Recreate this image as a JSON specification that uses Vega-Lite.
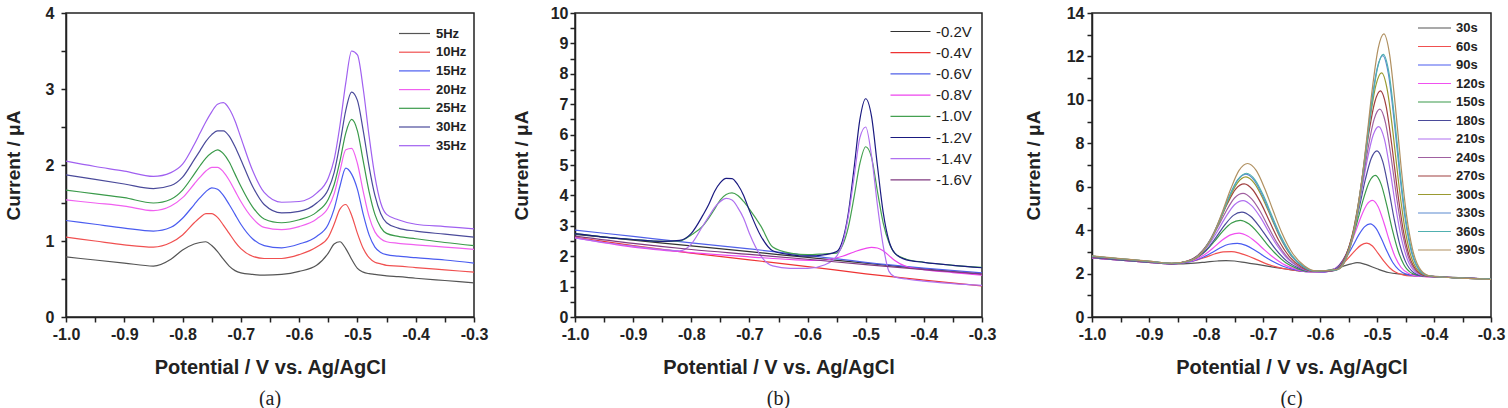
{
  "$schema": "https://vega.github.io/schema/vega-lite/v6.json",
  "autosize": {"type": "pad"},
  "padding": {"left": 3, "top": 4, "right": 5, "bottom": 0},
  "background": "white",
  "config": {
    "view": {"stroke": "#222", "strokeWidth": 1.5},
    "font": "Liberation Sans",
    "axis": {"domainColor": "#222", "domainWidth": 1.5, "tickColor": "#222", "tickWidth": 1.5, "tickSize": 5,
      "labelFont": "Liberation Sans", "labelFontSize": 16, "labelFontWeight": "bold", "labelColor": "#222",
      "titleFont": "Liberation Sans", "titleFontSize": 20, "titleFontWeight": "bold", "titleColor": "#222",
      "grid": false, "labelOverlap": false, "labelFlush": false},
    "axisX": {"labelPadding": 4, "titlePadding": 15},
    "axisY": {"titleFontSize": 19},
    "legend": {"orient": "none", "symbolStrokeWidth": 1.5, "symbolSize": 100, "labelFont": "Liberation Sans", "labelColor": "#222"},
    "line": {"strokeWidth": 1.2, "interpolate": "monotone"},
    "title": {"orient": "bottom", "font": "Liberation Serif", "fontSize": 20, "fontWeight": "normal", "color": "#222", "offset": 12}
  },
  "datasets": {
    "a": [
      {"s":"5Hz","x":-1,"y":0.79},{"s":"5Hz","x":-0.95,"y":0.75},{"s":"5Hz","x":-0.9,"y":0.71},{"s":"5Hz","x":-0.85,"y":0.67},{"s":"5Hz","x":-0.82,"y":0.76},{"s":"5Hz","x":-0.8,"y":0.88},{"s":"5Hz","x":-0.78,"y":0.96},{"s":"5Hz","x":-0.77,"y":0.98},{"s":"5Hz","x":-0.76,"y":0.99},{"s":"5Hz","x":-0.75,"y":0.94},{"s":"5Hz","x":-0.74,"y":0.86},{"s":"5Hz","x":-0.73,"y":0.76},{"s":"5Hz","x":-0.72,"y":0.67},{"s":"5Hz","x":-0.71,"y":0.61},{"s":"5Hz","x":-0.7,"y":0.58},{"s":"5Hz","x":-0.68,"y":0.56},{"s":"5Hz","x":-0.66,"y":0.55},{"s":"5Hz","x":-0.63,"y":0.56},{"s":"5Hz","x":-0.6,"y":0.6},{"s":"5Hz","x":-0.57,"y":0.68},{"s":"5Hz","x":-0.55,"y":0.84},{"s":"5Hz","x":-0.54,"y":0.96},{"s":"5Hz","x":-0.53,"y":0.99},{"s":"5Hz","x":-0.52,"y":0.9},{"s":"5Hz","x":-0.51,"y":0.76},{"s":"5Hz","x":-0.5,"y":0.64},{"s":"5Hz","x":-0.49,"y":0.59},{"s":"5Hz","x":-0.48,"y":0.57},{"s":"5Hz","x":-0.47,"y":0.56},{"s":"5Hz","x":-0.46,"y":0.55},{"s":"5Hz","x":-0.45,"y":0.54},{"s":"5Hz","x":-0.43,"y":0.53},{"s":"5Hz","x":-0.4,"y":0.51},{"s":"5Hz","x":-0.35,"y":0.48},{"s":"5Hz","x":-0.3,"y":0.45},
      {"s":"10Hz","x":-1,"y":1.05},{"s":"10Hz","x":-0.95,"y":1.0},{"s":"10Hz","x":-0.9,"y":0.95},{"s":"10Hz","x":-0.85,"y":0.92},{"s":"10Hz","x":-0.82,"y":0.98},{"s":"10Hz","x":-0.8,"y":1.08},{"s":"10Hz","x":-0.78,"y":1.24},{"s":"10Hz","x":-0.77,"y":1.31},{"s":"10Hz","x":-0.76,"y":1.36},{"s":"10Hz","x":-0.75,"y":1.36},{"s":"10Hz","x":-0.74,"y":1.31},{"s":"10Hz","x":-0.73,"y":1.21},{"s":"10Hz","x":-0.72,"y":1.1},{"s":"10Hz","x":-0.71,"y":0.99},{"s":"10Hz","x":-0.7,"y":0.9},{"s":"10Hz","x":-0.68,"y":0.8},{"s":"10Hz","x":-0.66,"y":0.77},{"s":"10Hz","x":-0.63,"y":0.77},{"s":"10Hz","x":-0.6,"y":0.82},{"s":"10Hz","x":-0.57,"y":0.92},{"s":"10Hz","x":-0.55,"y":1.05},{"s":"10Hz","x":-0.54,"y":1.22},{"s":"10Hz","x":-0.53,"y":1.42},{"s":"10Hz","x":-0.52,"y":1.48},{"s":"10Hz","x":-0.51,"y":1.34},{"s":"10Hz","x":-0.5,"y":1.1},{"s":"10Hz","x":-0.49,"y":0.9},{"s":"10Hz","x":-0.48,"y":0.78},{"s":"10Hz","x":-0.47,"y":0.72},{"s":"10Hz","x":-0.46,"y":0.7},{"s":"10Hz","x":-0.45,"y":0.68},{"s":"10Hz","x":-0.43,"y":0.67},{"s":"10Hz","x":-0.4,"y":0.65},{"s":"10Hz","x":-0.35,"y":0.62},{"s":"10Hz","x":-0.3,"y":0.59},
      {"s":"15Hz","x":-1,"y":1.27},{"s":"15Hz","x":-0.95,"y":1.22},{"s":"15Hz","x":-0.9,"y":1.17},{"s":"15Hz","x":-0.85,"y":1.13},{"s":"15Hz","x":-0.82,"y":1.18},{"s":"15Hz","x":-0.8,"y":1.3},{"s":"15Hz","x":-0.78,"y":1.48},{"s":"15Hz","x":-0.77,"y":1.57},{"s":"15Hz","x":-0.76,"y":1.65},{"s":"15Hz","x":-0.75,"y":1.7},{"s":"15Hz","x":-0.74,"y":1.68},{"s":"15Hz","x":-0.73,"y":1.6},{"s":"15Hz","x":-0.72,"y":1.48},{"s":"15Hz","x":-0.71,"y":1.35},{"s":"15Hz","x":-0.7,"y":1.22},{"s":"15Hz","x":-0.68,"y":1.03},{"s":"15Hz","x":-0.66,"y":0.94},{"s":"15Hz","x":-0.63,"y":0.91},{"s":"15Hz","x":-0.6,"y":0.96},{"s":"15Hz","x":-0.57,"y":1.06},{"s":"15Hz","x":-0.55,"y":1.22},{"s":"15Hz","x":-0.54,"y":1.42},{"s":"15Hz","x":-0.53,"y":1.72},{"s":"15Hz","x":-0.52,"y":1.96},{"s":"15Hz","x":-0.51,"y":1.88},{"s":"15Hz","x":-0.5,"y":1.68},{"s":"15Hz","x":-0.49,"y":1.35},{"s":"15Hz","x":-0.48,"y":1.08},{"s":"15Hz","x":-0.47,"y":0.92},{"s":"15Hz","x":-0.46,"y":0.85},{"s":"15Hz","x":-0.45,"y":0.82},{"s":"15Hz","x":-0.43,"y":0.8},{"s":"15Hz","x":-0.4,"y":0.78},{"s":"15Hz","x":-0.35,"y":0.75},{"s":"15Hz","x":-0.3,"y":0.71},
      {"s":"20Hz","x":-1,"y":1.54},{"s":"20Hz","x":-0.95,"y":1.5},{"s":"20Hz","x":-0.9,"y":1.46},{"s":"20Hz","x":-0.85,"y":1.4},{"s":"20Hz","x":-0.82,"y":1.46},{"s":"20Hz","x":-0.8,"y":1.57},{"s":"20Hz","x":-0.78,"y":1.75},{"s":"20Hz","x":-0.77,"y":1.84},{"s":"20Hz","x":-0.76,"y":1.92},{"s":"20Hz","x":-0.75,"y":1.97},{"s":"20Hz","x":-0.74,"y":1.97},{"s":"20Hz","x":-0.73,"y":1.91},{"s":"20Hz","x":-0.72,"y":1.8},{"s":"20Hz","x":-0.71,"y":1.66},{"s":"20Hz","x":-0.7,"y":1.52},{"s":"20Hz","x":-0.68,"y":1.3},{"s":"20Hz","x":-0.66,"y":1.18},{"s":"20Hz","x":-0.63,"y":1.15},{"s":"20Hz","x":-0.6,"y":1.19},{"s":"20Hz","x":-0.57,"y":1.29},{"s":"20Hz","x":-0.55,"y":1.44},{"s":"20Hz","x":-0.54,"y":1.62},{"s":"20Hz","x":-0.53,"y":1.92},{"s":"20Hz","x":-0.52,"y":2.2},{"s":"20Hz","x":-0.51,"y":2.22},{"s":"20Hz","x":-0.5,"y":2.02},{"s":"20Hz","x":-0.49,"y":1.65},{"s":"20Hz","x":-0.48,"y":1.32},{"s":"20Hz","x":-0.47,"y":1.12},{"s":"20Hz","x":-0.46,"y":1.03},{"s":"20Hz","x":-0.45,"y":0.99},{"s":"20Hz","x":-0.43,"y":0.97},{"s":"20Hz","x":-0.4,"y":0.95},{"s":"20Hz","x":-0.35,"y":0.92},{"s":"20Hz","x":-0.3,"y":0.89},
      {"s":"25Hz","x":-1,"y":1.67},{"s":"25Hz","x":-0.95,"y":1.62},{"s":"25Hz","x":-0.9,"y":1.57},{"s":"25Hz","x":-0.85,"y":1.5},{"s":"25Hz","x":-0.82,"y":1.55},{"s":"25Hz","x":-0.8,"y":1.67},{"s":"25Hz","x":-0.78,"y":1.88},{"s":"25Hz","x":-0.77,"y":1.99},{"s":"25Hz","x":-0.76,"y":2.09},{"s":"25Hz","x":-0.75,"y":2.16},{"s":"25Hz","x":-0.74,"y":2.2},{"s":"25Hz","x":-0.73,"y":2.15},{"s":"25Hz","x":-0.72,"y":2.04},{"s":"25Hz","x":-0.71,"y":1.88},{"s":"25Hz","x":-0.7,"y":1.72},{"s":"25Hz","x":-0.68,"y":1.45},{"s":"25Hz","x":-0.66,"y":1.29},{"s":"25Hz","x":-0.63,"y":1.24},{"s":"25Hz","x":-0.6,"y":1.28},{"s":"25Hz","x":-0.57,"y":1.38},{"s":"25Hz","x":-0.55,"y":1.55},{"s":"25Hz","x":-0.54,"y":1.74},{"s":"25Hz","x":-0.53,"y":2.05},{"s":"25Hz","x":-0.52,"y":2.42},{"s":"25Hz","x":-0.51,"y":2.6},{"s":"25Hz","x":-0.5,"y":2.45},{"s":"25Hz","x":-0.49,"y":2.05},{"s":"25Hz","x":-0.48,"y":1.65},{"s":"25Hz","x":-0.47,"y":1.35},{"s":"25Hz","x":-0.46,"y":1.18},{"s":"25Hz","x":-0.45,"y":1.1},{"s":"25Hz","x":-0.43,"y":1.06},{"s":"25Hz","x":-0.4,"y":1.03},{"s":"25Hz","x":-0.35,"y":0.98},{"s":"25Hz","x":-0.3,"y":0.94},
      {"s":"30Hz","x":-1,"y":1.87},{"s":"30Hz","x":-0.95,"y":1.81},{"s":"30Hz","x":-0.9,"y":1.75},{"s":"30Hz","x":-0.85,"y":1.69},{"s":"30Hz","x":-0.82,"y":1.73},{"s":"30Hz","x":-0.8,"y":1.84},{"s":"30Hz","x":-0.78,"y":2.07},{"s":"30Hz","x":-0.77,"y":2.19},{"s":"30Hz","x":-0.76,"y":2.31},{"s":"30Hz","x":-0.75,"y":2.4},{"s":"30Hz","x":-0.74,"y":2.45},{"s":"30Hz","x":-0.73,"y":2.45},{"s":"30Hz","x":-0.72,"y":2.38},{"s":"30Hz","x":-0.71,"y":2.24},{"s":"30Hz","x":-0.7,"y":2.07},{"s":"30Hz","x":-0.68,"y":1.72},{"s":"30Hz","x":-0.66,"y":1.48},{"s":"30Hz","x":-0.63,"y":1.37},{"s":"30Hz","x":-0.6,"y":1.39},{"s":"30Hz","x":-0.57,"y":1.5},{"s":"30Hz","x":-0.55,"y":1.68},{"s":"30Hz","x":-0.54,"y":1.9},{"s":"30Hz","x":-0.53,"y":2.28},{"s":"30Hz","x":-0.52,"y":2.72},{"s":"30Hz","x":-0.51,"y":2.96},{"s":"30Hz","x":-0.5,"y":2.85},{"s":"30Hz","x":-0.49,"y":2.45},{"s":"30Hz","x":-0.48,"y":1.98},{"s":"30Hz","x":-0.47,"y":1.6},{"s":"30Hz","x":-0.46,"y":1.36},{"s":"30Hz","x":-0.45,"y":1.24},{"s":"30Hz","x":-0.43,"y":1.17},{"s":"30Hz","x":-0.4,"y":1.13},{"s":"30Hz","x":-0.35,"y":1.09},{"s":"30Hz","x":-0.3,"y":1.05},
      {"s":"35Hz","x":-1,"y":2.05},{"s":"35Hz","x":-0.95,"y":1.98},{"s":"35Hz","x":-0.9,"y":1.92},{"s":"35Hz","x":-0.85,"y":1.85},{"s":"35Hz","x":-0.82,"y":1.9},{"s":"35Hz","x":-0.8,"y":2.01},{"s":"35Hz","x":-0.78,"y":2.27},{"s":"35Hz","x":-0.77,"y":2.42},{"s":"35Hz","x":-0.76,"y":2.57},{"s":"35Hz","x":-0.75,"y":2.7},{"s":"35Hz","x":-0.74,"y":2.8},{"s":"35Hz","x":-0.73,"y":2.82},{"s":"35Hz","x":-0.72,"y":2.74},{"s":"35Hz","x":-0.71,"y":2.58},{"s":"35Hz","x":-0.7,"y":2.36},{"s":"35Hz","x":-0.68,"y":1.93},{"s":"35Hz","x":-0.66,"y":1.64},{"s":"35Hz","x":-0.63,"y":1.51},{"s":"35Hz","x":-0.6,"y":1.52},{"s":"35Hz","x":-0.57,"y":1.63},{"s":"35Hz","x":-0.55,"y":1.83},{"s":"35Hz","x":-0.54,"y":2.07},{"s":"35Hz","x":-0.53,"y":2.52},{"s":"35Hz","x":-0.52,"y":3.08},{"s":"35Hz","x":-0.51,"y":3.5},{"s":"35Hz","x":-0.5,"y":3.45},{"s":"35Hz","x":-0.49,"y":3.0},{"s":"35Hz","x":-0.48,"y":2.38},{"s":"35Hz","x":-0.47,"y":1.85},{"s":"35Hz","x":-0.46,"y":1.5},{"s":"35Hz","x":-0.45,"y":1.35},{"s":"35Hz","x":-0.43,"y":1.28},{"s":"35Hz","x":-0.4,"y":1.22},{"s":"35Hz","x":-0.35,"y":1.19},{"s":"35Hz","x":-0.3,"y":1.16}
    ],
    "b": [
      {"s":"-0.2V","x":-1,"y":2.72},{"s":"-0.2V","x":-0.9,"y":2.53},{"s":"-0.2V","x":-0.8,"y":2.34},{"s":"-0.2V","x":-0.7,"y":2.15},{"s":"-0.2V","x":-0.6,"y":1.96},{"s":"-0.2V","x":-0.5,"y":1.77},{"s":"-0.2V","x":-0.4,"y":1.58},{"s":"-0.2V","x":-0.3,"y":1.4},
      {"s":"-0.4V","x":-1,"y":2.62},{"s":"-0.4V","x":-0.9,"y":2.35},{"s":"-0.4V","x":-0.8,"y":2.1},{"s":"-0.4V","x":-0.7,"y":1.88},{"s":"-0.4V","x":-0.6,"y":1.66},{"s":"-0.4V","x":-0.5,"y":1.42},{"s":"-0.4V","x":-0.4,"y":1.21},{"s":"-0.4V","x":-0.3,"y":1.02},
      {"s":"-0.6V","x":-1,"y":2.86},{"s":"-0.6V","x":-0.9,"y":2.65},{"s":"-0.6V","x":-0.8,"y":2.44},{"s":"-0.6V","x":-0.7,"y":2.24},{"s":"-0.6V","x":-0.6,"y":2.03},{"s":"-0.6V","x":-0.5,"y":1.8},{"s":"-0.6V","x":-0.4,"y":1.61},{"s":"-0.6V","x":-0.3,"y":1.45},
      {"s":"-0.8V","x":-1,"y":2.6},{"s":"-0.8V","x":-0.9,"y":2.3},{"s":"-0.8V","x":-0.8,"y":2.12},{"s":"-0.8V","x":-0.7,"y":1.98},{"s":"-0.8V","x":-0.62,"y":1.88},{"s":"-0.8V","x":-0.58,"y":1.86},{"s":"-0.8V","x":-0.56,"y":1.9},{"s":"-0.8V","x":-0.54,"y":2.0},{"s":"-0.8V","x":-0.52,"y":2.14},{"s":"-0.8V","x":-0.5,"y":2.26},{"s":"-0.8V","x":-0.49,"y":2.29},{"s":"-0.8V","x":-0.48,"y":2.27},{"s":"-0.8V","x":-0.47,"y":2.18},{"s":"-0.8V","x":-0.46,"y":2.02},{"s":"-0.8V","x":-0.45,"y":1.86},{"s":"-0.8V","x":-0.43,"y":1.66},{"s":"-0.8V","x":-0.4,"y":1.56},{"s":"-0.8V","x":-0.35,"y":1.46},{"s":"-0.8V","x":-0.3,"y":1.38},
      {"s":"-1.0V","x":-1,"y":2.74},{"s":"-1.0V","x":-0.95,"y":2.63},{"s":"-1.0V","x":-0.9,"y":2.55},{"s":"-1.0V","x":-0.85,"y":2.49},{"s":"-1.0V","x":-0.82,"y":2.5},{"s":"-1.0V","x":-0.8,"y":2.7},{"s":"-1.0V","x":-0.78,"y":3.0},{"s":"-1.0V","x":-0.77,"y":3.25},{"s":"-1.0V","x":-0.76,"y":3.55},{"s":"-1.0V","x":-0.75,"y":3.85},{"s":"-1.0V","x":-0.74,"y":4.03},{"s":"-1.0V","x":-0.73,"y":4.08},{"s":"-1.0V","x":-0.72,"y":4.0},{"s":"-1.0V","x":-0.71,"y":3.8},{"s":"-1.0V","x":-0.7,"y":3.55},{"s":"-1.0V","x":-0.68,"y":2.98},{"s":"-1.0V","x":-0.66,"y":2.3},{"s":"-1.0V","x":-0.63,"y":2.1},{"s":"-1.0V","x":-0.6,"y":2.05},{"s":"-1.0V","x":-0.57,"y":2.08},{"s":"-1.0V","x":-0.55,"y":2.1},{"s":"-1.0V","x":-0.54,"y":2.35},{"s":"-1.0V","x":-0.53,"y":2.95},{"s":"-1.0V","x":-0.52,"y":3.95},{"s":"-1.0V","x":-0.51,"y":5.05},{"s":"-1.0V","x":-0.5,"y":5.6},{"s":"-1.0V","x":-0.49,"y":5.25},{"s":"-1.0V","x":-0.48,"y":4.15},{"s":"-1.0V","x":-0.47,"y":3.1},{"s":"-1.0V","x":-0.46,"y":2.45},{"s":"-1.0V","x":-0.45,"y":2.1},{"s":"-1.0V","x":-0.43,"y":1.9},{"s":"-1.0V","x":-0.4,"y":1.8},{"s":"-1.0V","x":-0.35,"y":1.7},{"s":"-1.0V","x":-0.3,"y":1.63},
      {"s":"-1.2V","x":-1,"y":2.74},{"s":"-1.2V","x":-0.95,"y":2.63},{"s":"-1.2V","x":-0.9,"y":2.55},{"s":"-1.2V","x":-0.85,"y":2.49},{"s":"-1.2V","x":-0.82,"y":2.52},{"s":"-1.2V","x":-0.8,"y":2.75},{"s":"-1.2V","x":-0.78,"y":3.35},{"s":"-1.2V","x":-0.77,"y":3.7},{"s":"-1.2V","x":-0.76,"y":4.13},{"s":"-1.2V","x":-0.75,"y":4.42},{"s":"-1.2V","x":-0.74,"y":4.56},{"s":"-1.2V","x":-0.73,"y":4.55},{"s":"-1.2V","x":-0.72,"y":4.35},{"s":"-1.2V","x":-0.71,"y":4.0},{"s":"-1.2V","x":-0.7,"y":3.5},{"s":"-1.2V","x":-0.68,"y":2.65},{"s":"-1.2V","x":-0.66,"y":2.18},{"s":"-1.2V","x":-0.63,"y":2.05},{"s":"-1.2V","x":-0.6,"y":2.0},{"s":"-1.2V","x":-0.57,"y":2.05},{"s":"-1.2V","x":-0.55,"y":2.15},{"s":"-1.2V","x":-0.54,"y":2.5},{"s":"-1.2V","x":-0.53,"y":3.4},{"s":"-1.2V","x":-0.52,"y":4.9},{"s":"-1.2V","x":-0.51,"y":6.5},{"s":"-1.2V","x":-0.5,"y":7.18},{"s":"-1.2V","x":-0.49,"y":6.6},{"s":"-1.2V","x":-0.48,"y":5.0},{"s":"-1.2V","x":-0.47,"y":3.45},{"s":"-1.2V","x":-0.46,"y":2.5},{"s":"-1.2V","x":-0.45,"y":2.1},{"s":"-1.2V","x":-0.43,"y":1.88},{"s":"-1.2V","x":-0.4,"y":1.8},{"s":"-1.2V","x":-0.35,"y":1.7},{"s":"-1.2V","x":-0.3,"y":1.62},
      {"s":"-1.4V","x":-1,"y":2.6},{"s":"-1.4V","x":-0.95,"y":2.45},{"s":"-1.4V","x":-0.9,"y":2.33},{"s":"-1.4V","x":-0.85,"y":2.22},{"s":"-1.4V","x":-0.82,"y":2.18},{"s":"-1.4V","x":-0.8,"y":2.4},{"s":"-1.4V","x":-0.78,"y":3.0},{"s":"-1.4V","x":-0.77,"y":3.3},{"s":"-1.4V","x":-0.76,"y":3.6},{"s":"-1.4V","x":-0.75,"y":3.8},{"s":"-1.4V","x":-0.74,"y":3.9},{"s":"-1.4V","x":-0.73,"y":3.85},{"s":"-1.4V","x":-0.72,"y":3.6},{"s":"-1.4V","x":-0.71,"y":3.25},{"s":"-1.4V","x":-0.7,"y":2.75},{"s":"-1.4V","x":-0.68,"y":2.0},{"s":"-1.4V","x":-0.66,"y":1.68},{"s":"-1.4V","x":-0.63,"y":1.6},{"s":"-1.4V","x":-0.6,"y":1.6},{"s":"-1.4V","x":-0.57,"y":1.72},{"s":"-1.4V","x":-0.55,"y":2.0},{"s":"-1.4V","x":-0.54,"y":2.4},{"s":"-1.4V","x":-0.53,"y":3.3},{"s":"-1.4V","x":-0.52,"y":4.6},{"s":"-1.4V","x":-0.51,"y":5.9},{"s":"-1.4V","x":-0.5,"y":6.25},{"s":"-1.4V","x":-0.49,"y":5.3},{"s":"-1.4V","x":-0.48,"y":3.7},{"s":"-1.4V","x":-0.47,"y":2.35},{"s":"-1.4V","x":-0.46,"y":1.5},{"s":"-1.4V","x":-0.45,"y":1.32},{"s":"-1.4V","x":-0.43,"y":1.25},{"s":"-1.4V","x":-0.4,"y":1.18},{"s":"-1.4V","x":-0.35,"y":1.1},{"s":"-1.4V","x":-0.3,"y":1.04},
      {"s":"-1.6V","x":-1,"y":2.66},{"s":"-1.6V","x":-0.9,"y":2.42},{"s":"-1.6V","x":-0.8,"y":2.22},{"s":"-1.6V","x":-0.7,"y":2.06},{"s":"-1.6V","x":-0.6,"y":1.9},{"s":"-1.6V","x":-0.5,"y":1.72},{"s":"-1.6V","x":-0.4,"y":1.56},{"s":"-1.6V","x":-0.3,"y":1.42}
    ],
    "c": [
      {"s":"30s","x":-1,"y":2.72},{"s":"30s","x":-0.95,"y":2.62},{"s":"30s","x":-0.9,"y":2.52},{"s":"30s","x":-0.86,"y":2.44},{"s":"30s","x":-0.82,"y":2.48},{"s":"30s","x":-0.8,"y":2.53},{"s":"30s","x":-0.78,"y":2.58},{"s":"30s","x":-0.765,"y":2.6},{"s":"30s","x":-0.75,"y":2.58},{"s":"30s","x":-0.73,"y":2.5},{"s":"30s","x":-0.71,"y":2.42},{"s":"30s","x":-0.69,"y":2.33},{"s":"30s","x":-0.67,"y":2.25},{"s":"30s","x":-0.65,"y":2.17},{"s":"30s","x":-0.62,"y":2.1},{"s":"30s","x":-0.6,"y":2.1},{"s":"30s","x":-0.58,"y":2.18},{"s":"30s","x":-0.56,"y":2.33},{"s":"30s","x":-0.545,"y":2.45},{"s":"30s","x":-0.535,"y":2.5},{"s":"30s","x":-0.52,"y":2.42},{"s":"30s","x":-0.5,"y":2.22},{"s":"30s","x":-0.48,"y":2.05},{"s":"30s","x":-0.46,"y":1.98},{"s":"30s","x":-0.44,"y":1.95},{"s":"30s","x":-0.4,"y":1.87},{"s":"30s","x":-0.35,"y":1.8},{"s":"30s","x":-0.3,"y":1.75},
      {"s":"60s","x":-1,"y":2.72},{"s":"60s","x":-0.95,"y":2.62},{"s":"60s","x":-0.9,"y":2.52},{"s":"60s","x":-0.86,"y":2.44},{"s":"60s","x":-0.835,"y":2.52},{"s":"60s","x":-0.815,"y":2.63},{"s":"60s","x":-0.8,"y":2.76},{"s":"60s","x":-0.785,"y":2.9},{"s":"60s","x":-0.77,"y":3.0},{"s":"60s","x":-0.755,"y":3.01},{"s":"60s","x":-0.74,"y":2.93},{"s":"60s","x":-0.725,"y":2.8},{"s":"60s","x":-0.71,"y":2.63},{"s":"60s","x":-0.695,"y":2.46},{"s":"60s","x":-0.675,"y":2.3},{"s":"60s","x":-0.655,"y":2.19},{"s":"60s","x":-0.635,"y":2.11},{"s":"60s","x":-0.598,"y":2.06},{"s":"60s","x":-0.583,"y":2.12},{"s":"60s","x":-0.568,"y":2.29},{"s":"60s","x":-0.558,"y":2.5},{"s":"60s","x":-0.548,"y":2.78},{"s":"60s","x":-0.538,"y":3.07},{"s":"60s","x":-0.528,"y":3.31},{"s":"60s","x":-0.518,"y":3.4},{"s":"60s","x":-0.508,"y":3.27},{"s":"60s","x":-0.498,"y":2.93},{"s":"60s","x":-0.488,"y":2.57},{"s":"60s","x":-0.478,"y":2.27},{"s":"60s","x":-0.468,"y":2.07},{"s":"60s","x":-0.453,"y":1.93},{"s":"60s","x":-0.438,"y":1.89},{"s":"60s","x":-0.38,"y":1.83},{"s":"60s","x":-0.34,"y":1.79},{"s":"60s","x":-0.3,"y":1.75},
      {"s":"90s","x":-1,"y":2.72},{"s":"90s","x":-0.95,"y":2.62},{"s":"90s","x":-0.9,"y":2.52},{"s":"90s","x":-0.86,"y":2.44},{"s":"90s","x":-0.845,"y":2.48},{"s":"90s","x":-0.825,"y":2.56},{"s":"90s","x":-0.805,"y":2.75},{"s":"90s","x":-0.79,"y":2.96},{"s":"90s","x":-0.775,"y":3.19},{"s":"90s","x":-0.76,"y":3.35},{"s":"90s","x":-0.745,"y":3.39},{"s":"90s","x":-0.73,"y":3.3},{"s":"90s","x":-0.715,"y":3.09},{"s":"90s","x":-0.7,"y":2.83},{"s":"90s","x":-0.685,"y":2.59},{"s":"90s","x":-0.665,"y":2.34},{"s":"90s","x":-0.645,"y":2.18},{"s":"90s","x":-0.625,"y":2.09},{"s":"90s","x":-0.592,"y":2.07},{"s":"90s","x":-0.577,"y":2.18},{"s":"90s","x":-0.562,"y":2.47},{"s":"90s","x":-0.552,"y":2.83},{"s":"90s","x":-0.542,"y":3.29},{"s":"90s","x":-0.532,"y":3.78},{"s":"90s","x":-0.522,"y":4.15},{"s":"90s","x":-0.512,"y":4.29},{"s":"90s","x":-0.502,"y":4.09},{"s":"90s","x":-0.492,"y":3.59},{"s":"90s","x":-0.482,"y":3.0},{"s":"90s","x":-0.472,"y":2.5},{"s":"90s","x":-0.462,"y":2.18},{"s":"90s","x":-0.447,"y":1.95},{"s":"90s","x":-0.432,"y":1.89},{"s":"90s","x":-0.38,"y":1.83},{"s":"90s","x":-0.34,"y":1.79},{"s":"90s","x":-0.3,"y":1.75},
      {"s":"120s","x":-1,"y":2.72},{"s":"120s","x":-0.95,"y":2.62},{"s":"120s","x":-0.9,"y":2.52},{"s":"120s","x":-0.86,"y":2.44},{"s":"120s","x":-0.842,"y":2.5},{"s":"120s","x":-0.822,"y":2.61},{"s":"120s","x":-0.802,"y":2.88},{"s":"120s","x":-0.787,"y":3.19},{"s":"120s","x":-0.772,"y":3.53},{"s":"120s","x":-0.757,"y":3.78},{"s":"120s","x":-0.742,"y":3.86},{"s":"120s","x":-0.727,"y":3.73},{"s":"120s","x":-0.712,"y":3.44},{"s":"120s","x":-0.697,"y":3.08},{"s":"120s","x":-0.682,"y":2.75},{"s":"120s","x":-0.662,"y":2.4},{"s":"120s","x":-0.642,"y":2.2},{"s":"120s","x":-0.622,"y":2.09},{"s":"120s","x":-0.588,"y":2.09},{"s":"120s","x":-0.573,"y":2.24},{"s":"120s","x":-0.558,"y":2.69},{"s":"120s","x":-0.548,"y":3.22},{"s":"120s","x":-0.538,"y":3.91},{"s":"120s","x":-0.528,"y":4.62},{"s":"120s","x":-0.518,"y":5.17},{"s":"120s","x":-0.508,"y":5.37},{"s":"120s","x":-0.498,"y":5.08},{"s":"120s","x":-0.488,"y":4.35},{"s":"120s","x":-0.478,"y":3.49},{"s":"120s","x":-0.468,"y":2.76},{"s":"120s","x":-0.458,"y":2.29},{"s":"120s","x":-0.443,"y":1.98},{"s":"120s","x":-0.428,"y":1.88},{"s":"120s","x":-0.38,"y":1.83},{"s":"120s","x":-0.34,"y":1.79},{"s":"120s","x":-0.3,"y":1.75},
      {"s":"150s","x":-1,"y":2.74},{"s":"150s","x":-0.95,"y":2.63},{"s":"150s","x":-0.9,"y":2.53},{"s":"150s","x":-0.86,"y":2.45},{"s":"150s","x":-0.84,"y":2.52},{"s":"150s","x":-0.82,"y":2.68},{"s":"150s","x":-0.8,"y":3.05},{"s":"150s","x":-0.785,"y":3.49},{"s":"150s","x":-0.77,"y":3.97},{"s":"150s","x":-0.755,"y":4.33},{"s":"150s","x":-0.74,"y":4.45},{"s":"150s","x":-0.725,"y":4.29},{"s":"150s","x":-0.71,"y":3.91},{"s":"150s","x":-0.695,"y":3.42},{"s":"150s","x":-0.68,"y":2.97},{"s":"150s","x":-0.66,"y":2.5},{"s":"150s","x":-0.64,"y":2.23},{"s":"150s","x":-0.62,"y":2.1},{"s":"150s","x":-0.583,"y":2.1},{"s":"150s","x":-0.568,"y":2.32},{"s":"150s","x":-0.553,"y":2.93},{"s":"150s","x":-0.543,"y":3.64},{"s":"150s","x":-0.533,"y":4.55},{"s":"150s","x":-0.523,"y":5.51},{"s":"150s","x":-0.513,"y":6.25},{"s":"150s","x":-0.503,"y":6.52},{"s":"150s","x":-0.493,"y":6.13},{"s":"150s","x":-0.483,"y":5.16},{"s":"150s","x":-0.473,"y":4.01},{"s":"150s","x":-0.463,"y":3.05},{"s":"150s","x":-0.453,"y":2.42},{"s":"150s","x":-0.438,"y":2.0},{"s":"150s","x":-0.423,"y":1.89},{"s":"150s","x":-0.38,"y":1.83},{"s":"150s","x":-0.34,"y":1.79},{"s":"150s","x":-0.3,"y":1.75},
      {"s":"180s","x":-1,"y":2.74},{"s":"180s","x":-0.95,"y":2.63},{"s":"180s","x":-0.9,"y":2.53},{"s":"180s","x":-0.86,"y":2.45},{"s":"180s","x":-0.837,"y":2.53},{"s":"180s","x":-0.817,"y":2.72},{"s":"180s","x":-0.797,"y":3.16},{"s":"180s","x":-0.782,"y":3.68},{"s":"180s","x":-0.767,"y":4.24},{"s":"180s","x":-0.752,"y":4.68},{"s":"180s","x":-0.737,"y":4.83},{"s":"180s","x":-0.722,"y":4.64},{"s":"180s","x":-0.707,"y":4.19},{"s":"180s","x":-0.692,"y":3.63},{"s":"180s","x":-0.677,"y":3.09},{"s":"180s","x":-0.657,"y":2.55},{"s":"180s","x":-0.637,"y":2.25},{"s":"180s","x":-0.617,"y":2.1},{"s":"180s","x":-0.58,"y":2.12},{"s":"180s","x":-0.565,"y":2.4},{"s":"180s","x":-0.55,"y":3.15},{"s":"180s","x":-0.54,"y":4.03},{"s":"180s","x":-0.53,"y":5.18},{"s":"180s","x":-0.52,"y":6.38},{"s":"180s","x":-0.51,"y":7.31},{"s":"180s","x":-0.5,"y":7.65},{"s":"180s","x":-0.49,"y":7.17},{"s":"180s","x":-0.48,"y":5.96},{"s":"180s","x":-0.47,"y":4.53},{"s":"180s","x":-0.46,"y":3.33},{"s":"180s","x":-0.45,"y":2.55},{"s":"180s","x":-0.435,"y":2.03},{"s":"180s","x":-0.42,"y":1.89},{"s":"180s","x":-0.38,"y":1.83},{"s":"180s","x":-0.34,"y":1.79},{"s":"180s","x":-0.3,"y":1.75},
      {"s":"210s","x":-1,"y":2.78},{"s":"210s","x":-0.95,"y":2.66},{"s":"210s","x":-0.9,"y":2.55},{"s":"210s","x":-0.86,"y":2.46},{"s":"210s","x":-0.835,"y":2.54},{"s":"210s","x":-0.815,"y":2.78},{"s":"210s","x":-0.795,"y":3.32},{"s":"210s","x":-0.78,"y":3.95},{"s":"210s","x":-0.765,"y":4.62},{"s":"210s","x":-0.75,"y":5.17},{"s":"210s","x":-0.735,"y":5.36},{"s":"210s","x":-0.72,"y":5.13},{"s":"210s","x":-0.705,"y":4.61},{"s":"210s","x":-0.69,"y":3.93},{"s":"210s","x":-0.675,"y":3.28},{"s":"210s","x":-0.655,"y":2.63},{"s":"210s","x":-0.635,"y":2.27},{"s":"210s","x":-0.615,"y":2.1},{"s":"210s","x":-0.577,"y":2.14},{"s":"210s","x":-0.562,"y":2.46},{"s":"210s","x":-0.547,"y":3.38},{"s":"210s","x":-0.537,"y":4.44},{"s":"210s","x":-0.527,"y":5.82},{"s":"210s","x":-0.517,"y":7.25},{"s":"210s","x":-0.507,"y":8.36},{"s":"210s","x":-0.497,"y":8.77},{"s":"210s","x":-0.487,"y":8.19},{"s":"210s","x":-0.477,"y":6.75},{"s":"210s","x":-0.467,"y":5.04},{"s":"210s","x":-0.457,"y":3.6},{"s":"210s","x":-0.447,"y":2.67},{"s":"210s","x":-0.432,"y":2.06},{"s":"210s","x":-0.417,"y":1.89},{"s":"210s","x":-0.38,"y":1.83},{"s":"210s","x":-0.34,"y":1.79},{"s":"210s","x":-0.3,"y":1.74},
      {"s":"240s","x":-1,"y":2.78},{"s":"240s","x":-0.95,"y":2.66},{"s":"240s","x":-0.9,"y":2.55},{"s":"240s","x":-0.86,"y":2.46},{"s":"240s","x":-0.835,"y":2.55},{"s":"240s","x":-0.815,"y":2.82},{"s":"240s","x":-0.795,"y":3.41},{"s":"240s","x":-0.78,"y":4.11},{"s":"240s","x":-0.765,"y":4.86},{"s":"240s","x":-0.75,"y":5.48},{"s":"240s","x":-0.735,"y":5.69},{"s":"240s","x":-0.72,"y":5.44},{"s":"240s","x":-0.705,"y":4.87},{"s":"240s","x":-0.69,"y":4.12},{"s":"240s","x":-0.675,"y":3.4},{"s":"240s","x":-0.655,"y":2.69},{"s":"240s","x":-0.635,"y":2.29},{"s":"240s","x":-0.615,"y":2.11},{"s":"240s","x":-0.575,"y":2.14},{"s":"240s","x":-0.56,"y":2.52},{"s":"240s","x":-0.545,"y":3.54},{"s":"240s","x":-0.535,"y":4.73},{"s":"240s","x":-0.525,"y":6.27},{"s":"240s","x":-0.515,"y":7.87},{"s":"240s","x":-0.505,"y":9.11},{"s":"240s","x":-0.495,"y":9.57},{"s":"240s","x":-0.485,"y":8.93},{"s":"240s","x":-0.475,"y":7.31},{"s":"240s","x":-0.465,"y":5.4},{"s":"240s","x":-0.455,"y":3.8},{"s":"240s","x":-0.445,"y":2.76},{"s":"240s","x":-0.43,"y":2.08},{"s":"240s","x":-0.415,"y":1.89},{"s":"240s","x":-0.38,"y":1.83},{"s":"240s","x":-0.34,"y":1.78},{"s":"240s","x":-0.3,"y":1.74},
      {"s":"270s","x":-1,"y":2.78},{"s":"270s","x":-0.95,"y":2.66},{"s":"270s","x":-0.9,"y":2.55},{"s":"270s","x":-0.86,"y":2.46},{"s":"270s","x":-0.833,"y":2.57},{"s":"270s","x":-0.813,"y":2.86},{"s":"270s","x":-0.793,"y":3.54},{"s":"270s","x":-0.778,"y":4.33},{"s":"270s","x":-0.763,"y":5.19},{"s":"270s","x":-0.748,"y":5.89},{"s":"270s","x":-0.733,"y":6.13},{"s":"270s","x":-0.718,"y":5.86},{"s":"270s","x":-0.703,"y":5.21},{"s":"270s","x":-0.688,"y":4.37},{"s":"270s","x":-0.673,"y":3.56},{"s":"270s","x":-0.653,"y":2.76},{"s":"270s","x":-0.633,"y":2.31},{"s":"270s","x":-0.613,"y":2.11},{"s":"270s","x":-0.574,"y":2.15},{"s":"270s","x":-0.559,"y":2.58},{"s":"270s","x":-0.544,"y":3.71},{"s":"270s","x":-0.534,"y":5.03},{"s":"270s","x":-0.524,"y":6.74},{"s":"270s","x":-0.514,"y":8.52},{"s":"270s","x":-0.504,"y":9.89},{"s":"270s","x":-0.494,"y":10.41},{"s":"270s","x":-0.484,"y":9.7},{"s":"270s","x":-0.474,"y":7.91},{"s":"270s","x":-0.464,"y":5.79},{"s":"270s","x":-0.454,"y":4.01},{"s":"270s","x":-0.444,"y":2.86},{"s":"270s","x":-0.429,"y":2.1},{"s":"270s","x":-0.414,"y":1.89},{"s":"270s","x":-0.38,"y":1.83},{"s":"270s","x":-0.34,"y":1.78},{"s":"270s","x":-0.3,"y":1.74},
      {"s":"300s","x":-1,"y":2.8},{"s":"300s","x":-0.95,"y":2.68},{"s":"300s","x":-0.9,"y":2.56},{"s":"300s","x":-0.86,"y":2.47},{"s":"300s","x":-0.83,"y":2.58},{"s":"300s","x":-0.81,"y":2.9},{"s":"300s","x":-0.79,"y":3.63},{"s":"300s","x":-0.775,"y":4.48},{"s":"300s","x":-0.76,"y":5.42},{"s":"300s","x":-0.745,"y":6.17},{"s":"300s","x":-0.73,"y":6.45},{"s":"300s","x":-0.715,"y":6.15},{"s":"300s","x":-0.7,"y":5.44},{"s":"300s","x":-0.685,"y":4.54},{"s":"300s","x":-0.67,"y":3.66},{"s":"300s","x":-0.65,"y":2.8},{"s":"300s","x":-0.63,"y":2.32},{"s":"300s","x":-0.61,"y":2.12},{"s":"300s","x":-0.572,"y":2.17},{"s":"300s","x":-0.557,"y":2.63},{"s":"300s","x":-0.542,"y":3.88},{"s":"300s","x":-0.532,"y":5.33},{"s":"300s","x":-0.522,"y":7.21},{"s":"300s","x":-0.512,"y":9.17},{"s":"300s","x":-0.502,"y":10.67},{"s":"300s","x":-0.492,"y":11.24},{"s":"300s","x":-0.482,"y":10.46},{"s":"300s","x":-0.472,"y":8.5},{"s":"300s","x":-0.462,"y":6.17},{"s":"300s","x":-0.452,"y":4.22},{"s":"300s","x":-0.442,"y":2.95},{"s":"300s","x":-0.427,"y":2.11},{"s":"300s","x":-0.412,"y":1.9},{"s":"300s","x":-0.38,"y":1.83},{"s":"300s","x":-0.34,"y":1.78},{"s":"300s","x":-0.3,"y":1.74},
      {"s":"330s","x":-1,"y":2.8},{"s":"330s","x":-0.95,"y":2.68},{"s":"330s","x":-0.9,"y":2.56},{"s":"330s","x":-0.86,"y":2.47},{"s":"330s","x":-0.83,"y":2.58},{"s":"330s","x":-0.81,"y":2.91},{"s":"330s","x":-0.79,"y":3.67},{"s":"330s","x":-0.775,"y":4.55},{"s":"330s","x":-0.76,"y":5.51},{"s":"330s","x":-0.745,"y":6.29},{"s":"330s","x":-0.73,"y":6.58},{"s":"330s","x":-0.715,"y":6.28},{"s":"330s","x":-0.7,"y":5.54},{"s":"330s","x":-0.685,"y":4.61},{"s":"330s","x":-0.67,"y":3.71},{"s":"330s","x":-0.65,"y":2.82},{"s":"330s","x":-0.63,"y":2.33},{"s":"330s","x":-0.61,"y":2.12},{"s":"330s","x":-0.57,"y":2.18},{"s":"330s","x":-0.555,"y":2.69},{"s":"330s","x":-0.54,"y":4.04},{"s":"330s","x":-0.53,"y":5.62},{"s":"330s","x":-0.52,"y":7.66},{"s":"330s","x":-0.51,"y":9.79},{"s":"330s","x":-0.5,"y":11.42},{"s":"330s","x":-0.49,"y":12.04},{"s":"330s","x":-0.48,"y":11.19},{"s":"330s","x":-0.47,"y":9.06},{"s":"330s","x":-0.46,"y":6.54},{"s":"330s","x":-0.45,"y":4.41},{"s":"330s","x":-0.44,"y":3.04},{"s":"330s","x":-0.425,"y":2.13},{"s":"330s","x":-0.41,"y":1.9},{"s":"330s","x":-0.38,"y":1.83},{"s":"330s","x":-0.34,"y":1.78},{"s":"330s","x":-0.3,"y":1.74},
      {"s":"360s","x":-1,"y":2.8},{"s":"360s","x":-0.95,"y":2.68},{"s":"360s","x":-0.9,"y":2.56},{"s":"360s","x":-0.86,"y":2.47},{"s":"360s","x":-0.829,"y":2.58},{"s":"360s","x":-0.809,"y":2.92},{"s":"360s","x":-0.789,"y":3.69},{"s":"360s","x":-0.774,"y":4.58},{"s":"360s","x":-0.759,"y":5.55},{"s":"360s","x":-0.744,"y":6.33},{"s":"360s","x":-0.729,"y":6.62},{"s":"360s","x":-0.714,"y":6.32},{"s":"360s","x":-0.699,"y":5.58},{"s":"360s","x":-0.684,"y":4.64},{"s":"360s","x":-0.669,"y":3.74},{"s":"360s","x":-0.649,"y":2.83},{"s":"360s","x":-0.629,"y":2.34},{"s":"360s","x":-0.609,"y":2.12},{"s":"360s","x":-0.569,"y":2.18},{"s":"360s","x":-0.554,"y":2.7},{"s":"360s","x":-0.539,"y":4.06},{"s":"360s","x":-0.529,"y":5.65},{"s":"360s","x":-0.519,"y":7.7},{"s":"360s","x":-0.509,"y":9.83},{"s":"360s","x":-0.499,"y":11.47},{"s":"360s","x":-0.489,"y":12.09},{"s":"360s","x":-0.479,"y":11.24},{"s":"360s","x":-0.469,"y":9.1},{"s":"360s","x":-0.459,"y":6.56},{"s":"360s","x":-0.449,"y":4.43},{"s":"360s","x":-0.439,"y":3.05},{"s":"360s","x":-0.424,"y":2.13},{"s":"360s","x":-0.409,"y":1.9},{"s":"360s","x":-0.38,"y":1.83},{"s":"360s","x":-0.34,"y":1.78},{"s":"360s","x":-0.3,"y":1.74},
      {"s":"390s","x":-1,"y":2.82},{"s":"390s","x":-0.95,"y":2.69},{"s":"390s","x":-0.9,"y":2.57},{"s":"390s","x":-0.86,"y":2.48},{"s":"390s","x":-0.827,"y":2.6},{"s":"390s","x":-0.807,"y":2.97},{"s":"390s","x":-0.787,"y":3.81},{"s":"390s","x":-0.772,"y":4.79},{"s":"390s","x":-0.757,"y":5.87},{"s":"390s","x":-0.742,"y":6.75},{"s":"390s","x":-0.727,"y":7.07},{"s":"390s","x":-0.712,"y":6.75},{"s":"390s","x":-0.697,"y":5.92},{"s":"390s","x":-0.682,"y":4.88},{"s":"390s","x":-0.667,"y":3.88},{"s":"390s","x":-0.647,"y":2.89},{"s":"390s","x":-0.627,"y":2.35},{"s":"390s","x":-0.607,"y":2.12},{"s":"390s","x":-0.568,"y":2.2},{"s":"390s","x":-0.553,"y":2.75},{"s":"390s","x":-0.538,"y":4.24},{"s":"390s","x":-0.528,"y":5.98},{"s":"390s","x":-0.518,"y":8.22},{"s":"390s","x":-0.508,"y":10.56},{"s":"390s","x":-0.498,"y":12.36},{"s":"390s","x":-0.488,"y":13.04},{"s":"390s","x":-0.478,"y":12.11},{"s":"390s","x":-0.468,"y":9.77},{"s":"390s","x":-0.458,"y":6.99},{"s":"390s","x":-0.448,"y":4.66},{"s":"390s","x":-0.438,"y":3.16},{"s":"390s","x":-0.423,"y":2.16},{"s":"390s","x":-0.408,"y":1.9},{"s":"390s","x":-0.38,"y":1.83},{"s":"390s","x":-0.34,"y":1.78},{"s":"390s","x":-0.3,"y":1.73}
    ]
  },
  "bounds": "flush",
  "spacing": 0,
  "resolve": {"scale": {"color": "independent"}, "legend": {"color": "independent"}},
  "hconcat": [
    {
      "width": 408, "height": 304,
      "data": {"name": "a"},
      "title": {"text": "(a)"},
      "mark": {"type": "line"},
      "encoding": {
        "x": {"field": "x", "type": "quantitative",
          "scale": {"domain": [-1, -0.3], "nice": false, "zero": false},
          "axis": {"title": "Potential / V vs. Ag/AgCl",
            "values": [-1, -0.95, -0.9, -0.85, -0.8, -0.75, -0.7, -0.65, -0.6, -0.55, -0.5, -0.45, -0.4, -0.35, -0.3],
            "labelExpr": "abs(datum.value*10 - round(datum.value*10)) < 0.001 ? replace(format(datum.value, '.1f'), '\u2212', '-') : ''"}},
        "y": {"field": "y", "type": "quantitative",
          "scale": {"domain": [0, 4], "nice": false},
          "axis": {"title": "Current / \u03bcA", "labelPadding": 7, "titleX": -53, "titleBaseline": "middle",
            "values": [0, 0.5, 1, 1.5, 2, 2.5, 3, 3.5, 4],
            "labelExpr": "datum.value % 1 == 0 ? datum.value : ''"}},
        "color": {"field": "s", "type": "nominal",
          "scale": {"domain": ["5Hz", "10Hz", "15Hz", "20Hz", "25Hz", "30Hz", "35Hz"],
            "range": ["#555555", "#f05050", "#4a5cf0", "#f060f0", "#3a9a4a", "#4a4a9a", "#a060f0"]},
          "legend": {"title": null, "legendX": 342, "legendY": 14, "symbolType": "M-3.1,0H3.1", "labelOffset": 15, "rowPadding": 4.7, "labelFontSize": 13, "labelFontWeight": "bold"}}
      }
    },
    {
      "width": 101, "height": 304,
      "view": {"stroke": null},
      "data": {"values": []},
      "mark": {"type": "point"},
      "encoding": {}
    },
    {
      "width": 407, "height": 304,
      "data": {"name": "b"},
      "title": {"text": "(b)"},
      "mark": {"type": "line"},
      "encoding": {
        "x": {"field": "x", "type": "quantitative",
          "scale": {"domain": [-1, -0.3], "nice": false, "zero": false},
          "axis": {"title": "Potential / V vs. Ag/AgCl",
            "values": [-1, -0.95, -0.9, -0.85, -0.8, -0.75, -0.7, -0.65, -0.6, -0.55, -0.5, -0.45, -0.4, -0.35, -0.3],
            "labelExpr": "abs(datum.value*10 - round(datum.value*10)) < 0.001 ? replace(format(datum.value, '.1f'), '\u2212', '-') : ''"}},
        "y": {"field": "y", "type": "quantitative",
          "scale": {"domain": [0, 10], "nice": false},
          "axis": {"title": "Current / \u03bcA", "labelPadding": 2, "titleX": -54, "titleBaseline": "middle",
            "values": [0, 0.5, 1, 1.5, 2, 2.5, 3, 3.5, 4, 4.5, 5, 5.5, 6, 6.5, 7, 7.5, 8, 8.5, 9, 9.5, 10],
            "labelExpr": "datum.value % 1 == 0 ? datum.value : ''"}},
        "color": {"field": "s", "type": "nominal",
          "scale": {"domain": ["-0.2V", "-0.4V", "-0.6V", "-0.8V", "-1.0V", "-1.2V", "-1.4V", "-1.6V"],
            "range": ["#333333", "#ee3333", "#5060e8", "#ee44ee", "#44a050", "#1a1a80", "#b070f0", "#803a80"]},
          "legend": {"title": null, "legendX": 328, "legendY": 11, "symbolType": "M-4,0H4", "labelOffset": 18, "rowPadding": 5.2, "labelFontSize": 15, "labelFontWeight": "normal"}}
      }
    },
    {
      "width": 110, "height": 304,
      "view": {"stroke": null},
      "data": {"values": []},
      "mark": {"type": "point"},
      "encoding": {}
    },
    {
      "width": 399, "height": 304,
      "data": {"name": "c"},
      "title": {"text": "(c)"},
      "mark": {"type": "line"},
      "encoding": {
        "x": {"field": "x", "type": "quantitative",
          "scale": {"domain": [-1, -0.3], "nice": false, "zero": false},
          "axis": {"title": "Potential / V vs. Ag/AgCl",
            "values": [-1, -0.95, -0.9, -0.85, -0.8, -0.75, -0.7, -0.65, -0.6, -0.55, -0.5, -0.45, -0.4, -0.35, -0.3],
            "labelExpr": "abs(datum.value*10 - round(datum.value*10)) < 0.001 ? replace(format(datum.value, '.1f'), '\u2212', '-') : ''"}},
        "y": {"field": "y", "type": "quantitative",
          "scale": {"domain": [0, 14], "nice": false},
          "axis": {"title": "Current / \u03bcA", "labelPadding": 3, "titleX": -59, "titleBaseline": "middle",
            "values": [0, 1, 2, 3, 4, 5, 6, 7, 8, 9, 10, 11, 12, 13, 14],
            "labelExpr": "datum.value % 2 == 0 ? datum.value : ''"}},
        "color": {"field": "s", "type": "nominal",
          "scale": {"domain": ["30s", "60s", "90s", "120s", "150s", "180s", "210s", "240s", "270s", "300s", "330s", "360s", "390s"],
            "range": ["#555555", "#f05050", "#4a5cf0", "#f050f0", "#3a9a4a", "#4a4a9a", "#b070f0", "#a060a0", "#a04040", "#9a9a30", "#5a8ad0", "#50b0b0", "#b09060"]},
          "legend": {"title": null, "legendX": 336, "legendY": 8.5, "symbolType": "M-3.3,0H3.3", "labelOffset": 15, "rowPadding": 4.5, "labelFontSize": 13, "labelFontWeight": "bold"}}
      }
    }
  ]
}
